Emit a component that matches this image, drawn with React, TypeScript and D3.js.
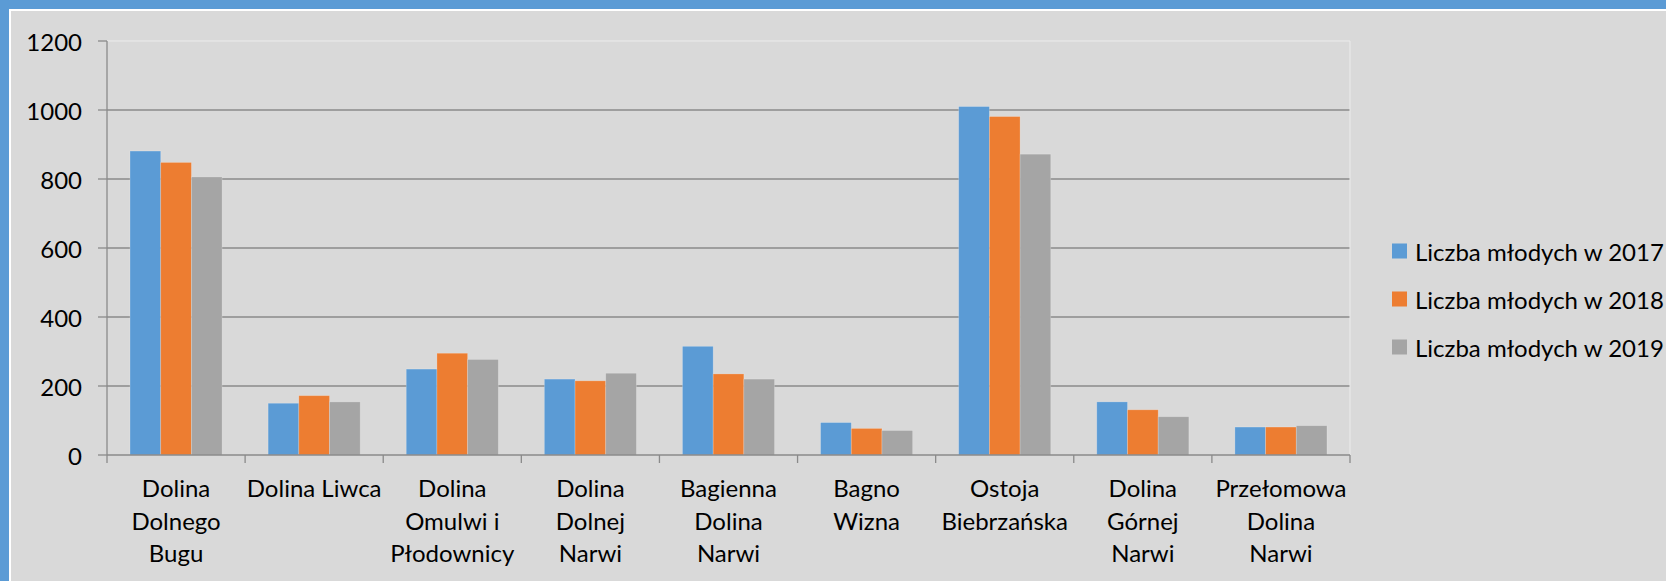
import { useEffect } from "react";
import * as d3 from "d3";

// chart values
const categories = [
  ["Dolina", "Dolnego", "Bugu"],
  ["Dolina Liwca"],
  ["Dolina", "Omulwi i", "Płodownicy"],
  ["Dolina", "Dolnej", "Narwi"],
  ["Bagienna", "Dolina", "Narwi"],
  ["Bagno", "Wizna"],
  ["Ostoja", "Biebrzańska"],
  ["Dolina", "Górnej", "Narwi"],
  ["Przełomowa", "Dolina", "Narwi"],
];
const series = ["Liczba młodych w 2017", "Liczba młodych w 2018", "Liczba młodych w 2019"];
const values2017 = [881, 150, 249, 220, 315, 94, 1010, 154, 81];
const values2018 = [848, 172, 295, 215, 235, 77, 981, 131, 81];
const values2019 = [806, 154, 277, 237, 220, 71, 872, 111, 85];
const yTicks = [0, 200, 400, 600, 800, 1000, 1200];

const colors = ["#5B9BD5", "#ED7D31", "#A5A5A5"];
const W = 1666;
const H = 581;
const plot = { left: 107, right: 1350, top: 41, bottom: 455 };
const font = "Lato, 'Open Sans', sans-serif";
const fs = 24;

const App = () => {
  useEffect(() => {
    document.body.style.margin = "0";
  }, []);

  const keys = categories.map((c) => c.join(" "));
  const values = [values2017, values2018, values2019];

  // Create scales
  const x0 = d3.scaleBand<string>().domain(keys).range([plot.left, plot.right]).padding(0);
  const x1 = d3
    .scaleBand<string>()
    .domain(series)
    .range([0, x0.bandwidth()])
    .paddingInner(0)
    .paddingOuter(0.75);
  const y = d3.scaleLinear().domain([0, 1200]).range([plot.bottom, plot.top]);

  const gridColor = "#8a8a8a";

  return (
    <svg width={W} height={H} style={{ display: "block" }} fontFamily={font}>
      {/* frame */}
      <rect x={0} y={0} width={W} height={H} fill="#5B9BD5" />
      <rect x={9} y={9} width={W - 9} height={H - 9} fill="#ffffff" />
      <rect x={11} y={11} width={W - 11} height={H - 11} fill="#D9D9D9" />

      {/* gridlines */}
      {yTicks.slice(1, -1).map((t) => (
        <line key={t} x1={plot.left} x2={plot.right} y1={y(t)} y2={y(t)} stroke={gridColor} strokeWidth={1.3} />
      ))}
      {/* plot area border (light) */}
      <line x1={plot.left} x2={plot.right} y1={y(1200)} y2={y(1200)} stroke="#ececec" strokeWidth={1} />
      <line x1={plot.right} x2={plot.right} y1={plot.top} y2={plot.bottom} stroke="#ececec" strokeWidth={1} />

      {/* bars */}
      {keys.map((k, i) => (
        <g key={k} transform={`translate(${x0(k)},0)`}>
          {series.map((s, j) => (
            <rect
              key={s}
              x={x1(s)}
              y={y(values[j][i])}
              width={x1.bandwidth()}
              height={y(0) - y(values[j][i])}
              fill={colors[j]}
              stroke="#ffffff"
              strokeOpacity={0.25}
              strokeWidth={0.8}
            />
          ))}
        </g>
      ))}

      {/* y axis */}
      <line x1={plot.left} x2={plot.left} y1={plot.top} y2={plot.bottom} stroke={gridColor} strokeWidth={1.3} />
      {yTicks.map((t) => (
        <g key={t}>
          <line x1={plot.left - 9} x2={plot.left} y1={y(t)} y2={y(t)} stroke={gridColor} strokeWidth={1.3} />
          <text x={82} y={y(t)} textAnchor="end" dominantBaseline="central" fontSize={fs} fill="#000">
            {t}
          </text>
        </g>
      ))}

      {/* x axis */}
      <line x1={plot.left} x2={plot.right} y1={plot.bottom} y2={plot.bottom} stroke={gridColor} strokeWidth={1.3} />
      {[...keys.map((k) => x0(k) as number), plot.right].map((px, i) => (
        <line key={i} x1={px} x2={px} y1={plot.bottom} y2={plot.bottom + 8} stroke={gridColor} strokeWidth={1.3} />
      ))}
      {categories.map((lines, i) => (
        <text
          key={keys[i]}
          x={(x0(keys[i]) as number) + x0.bandwidth() / 2}
          y={497}
          textAnchor="middle"
          fontSize={fs}
          fill="#000"
        >
          {lines.map((l, li) => (
            <tspan key={li} x={(x0(keys[i]) as number) + x0.bandwidth() / 2} dy={li === 0 ? 0 : 32.5}>
              {l}
            </tspan>
          ))}
        </text>
      ))}

      {/* legend */}
      {series.map((s, j) => (
        <g key={s} transform={`translate(1392, ${251 + j * 48})`}>
          <rect x={0} y={-7.5} width={15} height={15} fill={colors[j]} />
          <text x={23} y={0} dominantBaseline="central" fontSize={fs} fill="#000">
            {s}
          </text>
        </g>
      ))}
    </svg>
  );
};

export default App;
